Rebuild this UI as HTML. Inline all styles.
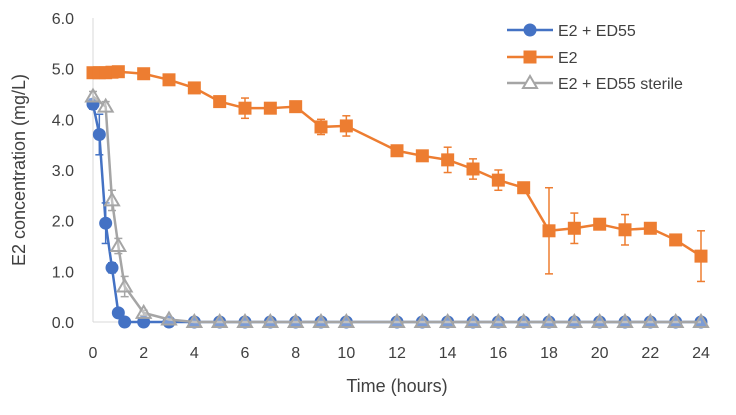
<!DOCTYPE html>
<html><head><meta charset="utf-8"><style>
body{margin:0;background:#fff}
text{font-family:"Liberation Sans",sans-serif;fill:#404040}
</style></head><body>
<svg id="c" width="736" height="410" xmlns="http://www.w3.org/2000/svg"></svg>
<script>
const xTicks=[0,2,4,6,8,10,12,14,16,18,20,22,24];
const yTicks=[0,1,2,3,4,5,6];
const tBlue=[0,0.25,0.5,0.75,1,1.25,2,3,4,5,6,7,8,9,10,12,13,14,15,16,17,18,19,20,21,22,23,24];
const vBlue=[4.3,3.7,1.95,1.07,0.18,0,0,0,0,0,0,0,0,0,0,0,0,0,0,0,0,0,0,0,0,0,0,0];
const eBlue=[0.1,0.4,0.4,0.1,0,0,0,0,0,0,0,0,0,0,0,0,0,0,0,0,0,0,0,0,0,0,0,0];
const tOrange=[0,0.25,0.5,0.75,1,2,3,4,5,6,7,8,9,10,12,13,14,15,16,17,18,19,20,21,22,23,24];
const vOrange=[4.92,4.92,4.92,4.93,4.94,4.9,4.78,4.62,4.35,4.22,4.22,4.25,3.85,3.87,3.38,3.28,3.2,3.02,2.8,2.65,1.8,1.85,1.93,1.82,1.85,1.62,1.3];
const eOrange=[0,0,0,0,0,0.05,0.05,0.05,0.05,0.2,0.1,0.05,0.15,0.2,0.05,0.05,0.25,0.2,0.2,0.05,0.85,0.3,0.05,0.3,0.05,0.05,0.5];
const tGray=[0,0.5,0.75,1,1.25,2,3,4,5,6,7,8,9,10,12,13,14,15,16,17,18,19,20,21,22,23,24];
const vGray=[4.45,4.25,2.4,1.5,0.7,0.18,0.05,0,0,0,0,0,0,0,0,0,0,0,0,0,0,0,0,0,0,0,0];
const eGray=[0.1,0.1,0.2,0.15,0.2,0.05,0,0,0,0,0,0,0,0,0,0,0,0,0,0,0,0,0,0,0,0,0];
const X=v=>93+v*(608/24), Y=v=>322-v*(304/6);
const svg=document.getElementById('c'),NS='http://www.w3.org/2000/svg';
function el(tag,a,p){const e=document.createElementNS(NS,tag);for(const k in a)e.setAttribute(k,a[k]);(p||svg).appendChild(e);return e;}
let ax=el('line',{x1:X(0),y1:Y(0),x2:X(24),y2:Y(0),stroke:'#d9d9d9','stroke-width':1});

let ay=el('line',{x1:X(0),y1:Y(0),x2:X(0),y2:Y(6),stroke:'#d9d9d9','stroke-width':1});

xTicks.forEach(t=>{const e=el('text',{x:X(t),y:358,'text-anchor':'middle','font-size':16});e.textContent=t;
});
yTicks.forEach(t=>{const e=el('text',{x:74,y:Y(t)+6,'text-anchor':'end','font-size':16});e.textContent=t.toFixed(1);
});
let xt=el('text',{x:397,y:392,'text-anchor':'middle','font-size':18});xt.textContent='Time (hours)';

let yt=el('text',{x:0,y:0,'text-anchor':'middle','font-size':18,transform:'translate(25,170) rotate(-90)'});yt.textContent='E2 concentration (mg/L)';

function marker(type,x,y,c,g){
 if(type==='c')return el('circle',{cx:x,cy:y,r:6.5,fill:c},g);
 if(type==='s')return el('rect',{x:x-6.5,y:y-6.5,width:13,height:13,fill:c},g);
 return el('polygon',{points:`${x},${y-7} ${x-7},${y+5} ${x+7},${y+5}`,fill:'#fff','fill-opacity':0.3,stroke:c,'stroke-width':2},g);
}
function series(name,ts,vs,es,c,type){
 const g=el('g',{});
 ts.forEach((t,i)=>{if(es[i]>0){const x=X(t);
  el('line',{x1:x,y1:Y(vs[i]-es[i]),x2:x,y2:Y(vs[i]+es[i]),stroke:c,'stroke-width':1.5},g);
  el('line',{x1:x-4,y1:Y(vs[i]-es[i]),x2:x+4,y2:Y(vs[i]-es[i]),stroke:c,'stroke-width':1.5},g);
  el('line',{x1:x-4,y1:Y(vs[i]+es[i]),x2:x+4,y2:Y(vs[i]+es[i]),stroke:c,'stroke-width':1.5},g);}});
 el('polyline',{points:ts.map((t,i)=>X(t)+','+Y(vs[i])).join(' '),fill:'none',stroke:c,'stroke-width':2.5},g);
 ts.forEach((t,i)=>{const m=marker(type,X(t),Y(vs[i]),c,g);});
}
series('series-e2',tOrange,vOrange,eOrange,'#ed7d31','s');
series('series-e2-ed55',tBlue,vBlue,eBlue,'#4472c4','c');
series('series-e2-ed55-sterile',tGray,vGray,eGray,'#a5a5a5','t');
const leg=[['E2 + ED55','#4472c4','c',30],['E2','#ed7d31','s',57],['E2 + ED55 sterile','#a5a5a5','t',83]];
leg.forEach(l=>{const g=el('g',{});
 el('line',{x1:507,y1:l[3],x2:553,y2:l[3],stroke:l[1],'stroke-width':2.5},g);
 const m=marker(l[2],530,l[3],l[1],g);if(l[2]==='t')m.setAttribute('fill-opacity',1);
 const t=el('text',{x:558,y:l[3]+6,'font-size':16},g);t.textContent=l[0];});
</script>
</body></html>
